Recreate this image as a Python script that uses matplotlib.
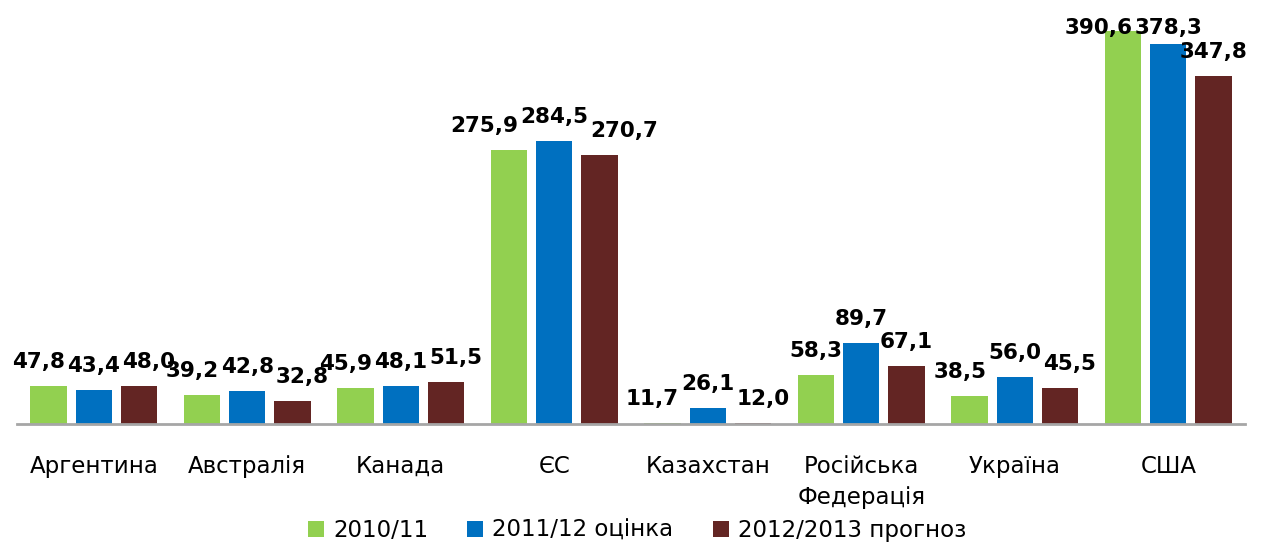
import matplotlib.pyplot as plt
import numpy as np

categories = ["Аргентина", "Австралія", "Канада", "ЄС", "Казахстан",
              "Російська\nФедерація", "Україна", "США"]
series_names = ["2010/11", "2011/12 оцінка", "2012/2013 прогноз"]
v_2010 = [47.8, 39.2, 45.9, 275.9, 11.7, 58.3, 38.5, 390.6]
v_2011 = [43.4, 42.8, 48.1, 284.5, 26.1, 89.7, 56.0, 378.3]
v_2012 = [48.0, 32.8, 51.5, 270.7, 12.0, 67.1, 45.5, 347.8]
colors = ["#92D050", "#0070C0", "#632523"]

y_min, y_max = 11.0, 401.7

plt.rcParams["font.family"] = ["DejaVu Sans"]

fig = plt.figure(figsize=(12.65, 5.42), dpi=100)
W, H = 1265, 542
ax = fig.add_axes([17 / W, 1 - 424 / H, 1228 / W, (424 - 20) / H])

x = np.arange(len(categories))
width = 0.235
step = 0.295
for i, (vals, col, name) in enumerate(zip([v_2010, v_2011, v_2012], colors, series_names)):
    ax.bar(x + (i - 1) * step, vals, width, color=col, label=name, zorder=2)

ax.set_xlim(-0.5, len(categories) - 0.5)
ax.set_ylim(y_min, y_max)

# data labels: baseline ~18 px above bar, kept inside the plot area
px_per_unit = ax.bbox.height / (y_max - y_min)
gap = 18 / px_per_unit
top_clamp = y_max - 14 / px_per_unit
labels = [[None] * 3 for _ in categories]
for i, vals in enumerate([v_2010, v_2011, v_2012]):
    for k, v in enumerate(vals):
        ty = min(v + gap, top_clamp)
        labels[k][i] = ax.text(x[k] + (i - 1) * step, ty, f"{v:.1f}".replace(".", ","),
                               ha="center", va="baseline", fontsize=15.5,
                               fontweight="bold", color="black", zorder=3)

# push side labels away from the middle one when they collide
fig.canvas.draw()
r = fig.canvas.get_renderer()
inv = ax.transData.inverted()
for grp in labels:
    mid = grp[1].get_window_extent(r)
    for side, t in ((-1, grp[0]), (1, grp[2])):
        bb = t.get_window_extent(r)
        if bb.y1 < mid.y0 or bb.y0 > mid.y1:
            continue
        if side < 0:
            shift = min(0, mid.x0 - 2 - bb.x1)
        else:
            shift = max(0, mid.x1 + 2 - bb.x0)
        if shift:
            cx, cy = ax.transData.transform(t.get_position())
            t.set_position(inv.transform((cx + shift, cy)))

for s in ["top", "right", "left"]:
    ax.spines[s].set_visible(False)
ax.spines["bottom"].set_color("#a6a6a6")
ax.spines["bottom"].set_linewidth(2)
ax.set_yticks([])
ax.set_xticks(x)
ax.set_xticklabels(categories, fontsize=16.5, linespacing=1.45)
ax.tick_params(axis="x", length=0, pad=22)

fig.legend(loc="center", bbox_to_anchor=(637 / W, 0.022), ncol=3, frameon=False,
           fontsize=16.5, handlelength=0.7, handleheight=0.7, handletextpad=0.4,
           columnspacing=1.7, borderaxespad=0)

fig.savefig("out.png", dpi=100)
